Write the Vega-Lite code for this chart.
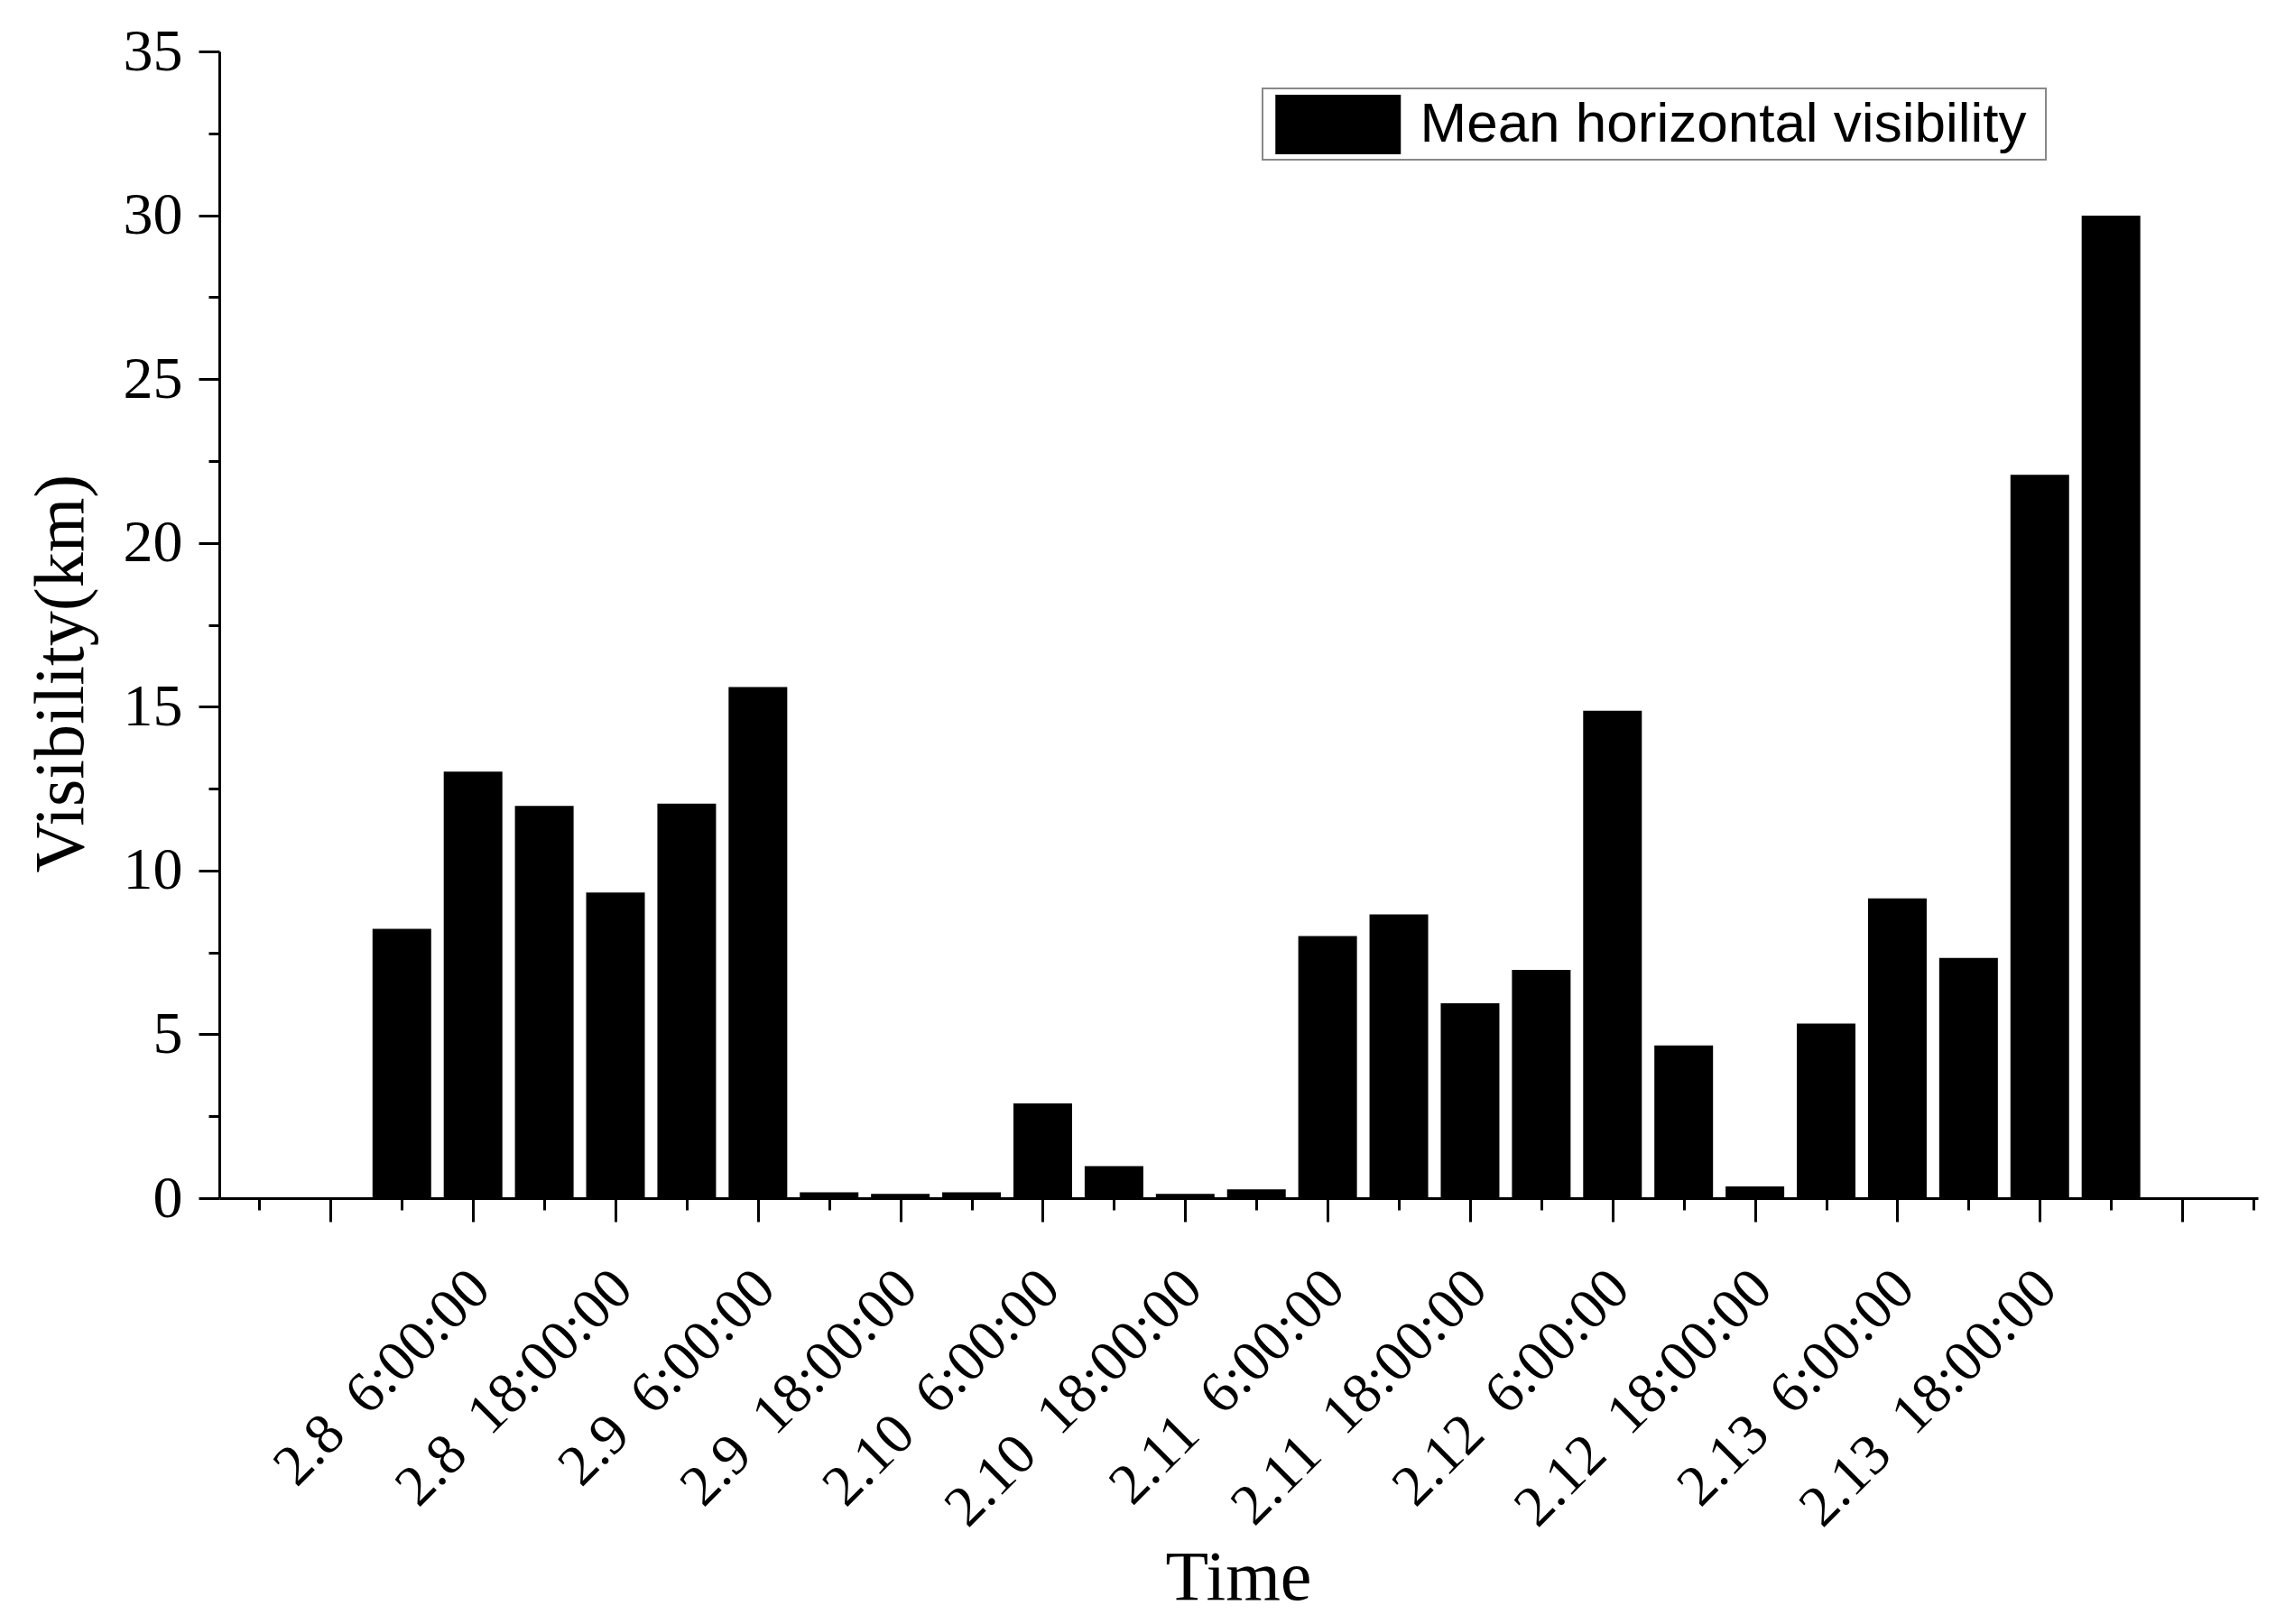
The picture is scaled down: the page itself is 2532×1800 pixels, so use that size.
{
  "$schema": "https://vega.github.io/schema/vega-lite/v6.json",
  "autosize": "none",
  "padding": {"left": 243, "top": 57, "right": 30, "bottom": 472},
  "width": 2259,
  "height": 1271,
  "background": "white",
  "data": {"values": [
    {"time": "2014-02-08T00:00:00", "visibility": 8.22},
    {"time": "2014-02-08T06:00:00", "visibility": 13.02},
    {"time": "2014-02-08T12:00:00", "visibility": 11.97},
    {"time": "2014-02-08T18:00:00", "visibility": 9.33},
    {"time": "2014-02-09T00:00:00", "visibility": 12.04},
    {"time": "2014-02-09T06:00:00", "visibility": 15.6},
    {"time": "2014-02-09T12:00:00", "visibility": 0.18},
    {"time": "2014-02-09T18:00:00", "visibility": 0.13},
    {"time": "2014-02-10T00:00:00", "visibility": 0.18},
    {"time": "2014-02-10T06:00:00", "visibility": 2.89},
    {"time": "2014-02-10T12:00:00", "visibility": 0.98},
    {"time": "2014-02-10T18:00:00", "visibility": 0.13},
    {"time": "2014-02-11T00:00:00", "visibility": 0.27},
    {"time": "2014-02-11T06:00:00", "visibility": 8.0},
    {"time": "2014-02-11T12:00:00", "visibility": 8.66},
    {"time": "2014-02-11T18:00:00", "visibility": 5.95},
    {"time": "2014-02-12T00:00:00", "visibility": 6.97},
    {"time": "2014-02-12T06:00:00", "visibility": 14.88},
    {"time": "2014-02-12T12:00:00", "visibility": 4.66},
    {"time": "2014-02-12T18:00:00", "visibility": 0.36},
    {"time": "2014-02-13T00:00:00", "visibility": 5.33},
    {"time": "2014-02-13T06:00:00", "visibility": 9.15},
    {"time": "2014-02-13T12:00:00", "visibility": 7.33},
    {"time": "2014-02-13T18:00:00", "visibility": 22.08},
    {"time": "2014-02-14T00:00:00", "visibility": 29.99}
  ]},
  "mark": {"type": "bar", "size": 65, "color": "black"},
  "encoding": {
    "x": {
      "field": "time",
      "type": "temporal",
      "scale": {
        "domain": [
          {"year": 2014, "month": 2, "date": 7, "hours": 9},
          {"year": 2014, "month": 2, "date": 14, "hours": 12}
        ]
      },
      "axis": {
        "title": "Time",
        "titleFont": "Liberation Serif",
        "titleFontSize": 78,
        "titleFontWeight": "normal",
        "titleColor": "black",
        "titleX": 1129,
        "titleY": 444,
        "titleAlign": "center",
        "titleBaseline": "alphabetic",
        "values": [
          {"year": 2014, "month": 2, "date": 7, "hours": 12},
          {"year": 2014, "month": 2, "date": 7, "hours": 18},
          {"year": 2014, "month": 2, "date": 8, "hours": 0},
          {"year": 2014, "month": 2, "date": 8, "hours": 6},
          {"year": 2014, "month": 2, "date": 8, "hours": 12},
          {"year": 2014, "month": 2, "date": 8, "hours": 18},
          {"year": 2014, "month": 2, "date": 9, "hours": 0},
          {"year": 2014, "month": 2, "date": 9, "hours": 6},
          {"year": 2014, "month": 2, "date": 9, "hours": 12},
          {"year": 2014, "month": 2, "date": 9, "hours": 18},
          {"year": 2014, "month": 2, "date": 10, "hours": 0},
          {"year": 2014, "month": 2, "date": 10, "hours": 6},
          {"year": 2014, "month": 2, "date": 10, "hours": 12},
          {"year": 2014, "month": 2, "date": 10, "hours": 18},
          {"year": 2014, "month": 2, "date": 11, "hours": 0},
          {"year": 2014, "month": 2, "date": 11, "hours": 6},
          {"year": 2014, "month": 2, "date": 11, "hours": 12},
          {"year": 2014, "month": 2, "date": 11, "hours": 18},
          {"year": 2014, "month": 2, "date": 12, "hours": 0},
          {"year": 2014, "month": 2, "date": 12, "hours": 6},
          {"year": 2014, "month": 2, "date": 12, "hours": 12},
          {"year": 2014, "month": 2, "date": 12, "hours": 18},
          {"year": 2014, "month": 2, "date": 13, "hours": 0},
          {"year": 2014, "month": 2, "date": 13, "hours": 6},
          {"year": 2014, "month": 2, "date": 13, "hours": 12},
          {"year": 2014, "month": 2, "date": 13, "hours": 18},
          {"year": 2014, "month": 2, "date": 14, "hours": 0},
          {"year": 2014, "month": 2, "date": 14, "hours": 6},
          {"year": 2014, "month": 2, "date": 14, "hours": 12}
        ],
        "labelExpr": "(hours(datum.value) % 12 != 6 || datum.value < datetime(2014,1,8,0) || datum.value > datetime(2014,1,14,0)) ? '' : (month(datum.value)+1) + '.' + date(datum.value) + ' \u00a0' + hours(datum.value) + ':00:00'",
        "labelAngle": -45,
        "labelAlign": "right",
        "labelBaseline": "middle",
        "labelFont": "Liberation Serif",
        "labelFontSize": 64,
        "labelColor": "black",
        "labelPadding": 64,
        "labelOffset": 8,
        "labelLimit": 0,
        "labelOverlap": false,
        "labelBound": false,
        "labelFlush": false,
        "tickSize": {"condition": {"test": "hours(datum.value) % 12 == 6", "value": 26}, "value": 13},
        "tickWidth": 3,
        "tickColor": "black",
        "domainColor": "black",
        "domainWidth": 3,
        "grid": false
      }
    },
    "y": {
      "field": "visibility",
      "type": "quantitative",
      "scale": {"domain": [0, 35], "nice": false},
      "axis": {
        "title": "Visibility(km)",
        "titleFont": "Liberation Serif",
        "titleFontSize": 78,
        "titleFontWeight": "normal",
        "titleColor": "black",
        "titleX": -175,
        "titleY": 689,
        "titleAngle": -90,
        "titleAlign": "center",
        "titleBaseline": "middle",
        "values": [0, 2.5, 5, 7.5, 10, 12.5, 15, 17.5, 20, 22.5, 25, 27.5, 30, 32.5, 35],
        "labelExpr": "datum.value % 5 == 0 ? datum.label : ''",
        "labelFont": "Liberation Serif",
        "labelFontSize": 66,
        "labelColor": "black",
        "labelPadding": 18,
        "labelOverlap": false,
        "labelFlush": false,
        "tickSize": {"condition": {"test": "datum.value % 5 == 0", "value": 23}, "value": 12},
        "tickWidth": 3,
        "tickColor": "black",
        "domainColor": "black",
        "domainWidth": 3,
        "grid": false
      }
    },
    "color": {
      "datum": "Mean horizontal visibility",
      "type": "nominal",
      "scale": {"range": ["black"]},
      "legend": {
        "title": null,
        "orient": "none",
        "legendX": 1156,
        "legendY": 41,
        "padding": 5,
        "strokeColor": "#888888",
        "fillColor": "white",
        "symbolType": "M-2,-0.95H2V0.95H-2Z M22.4,0",
        "symbolSize": 4830,
        "symbolStrokeWidth": 0,
        "symbolOffset": 43.75,
        "labelOffset": 55.75,
        "labelFont": "Liberation Sans",
        "labelFontSize": 62,
        "labelColor": "black",
        "labelLimit": 0
      }
    }
  },
  "config": {
    "view": {"stroke": null},
    "legend": {"strokeWidth": 2}
  }
}
